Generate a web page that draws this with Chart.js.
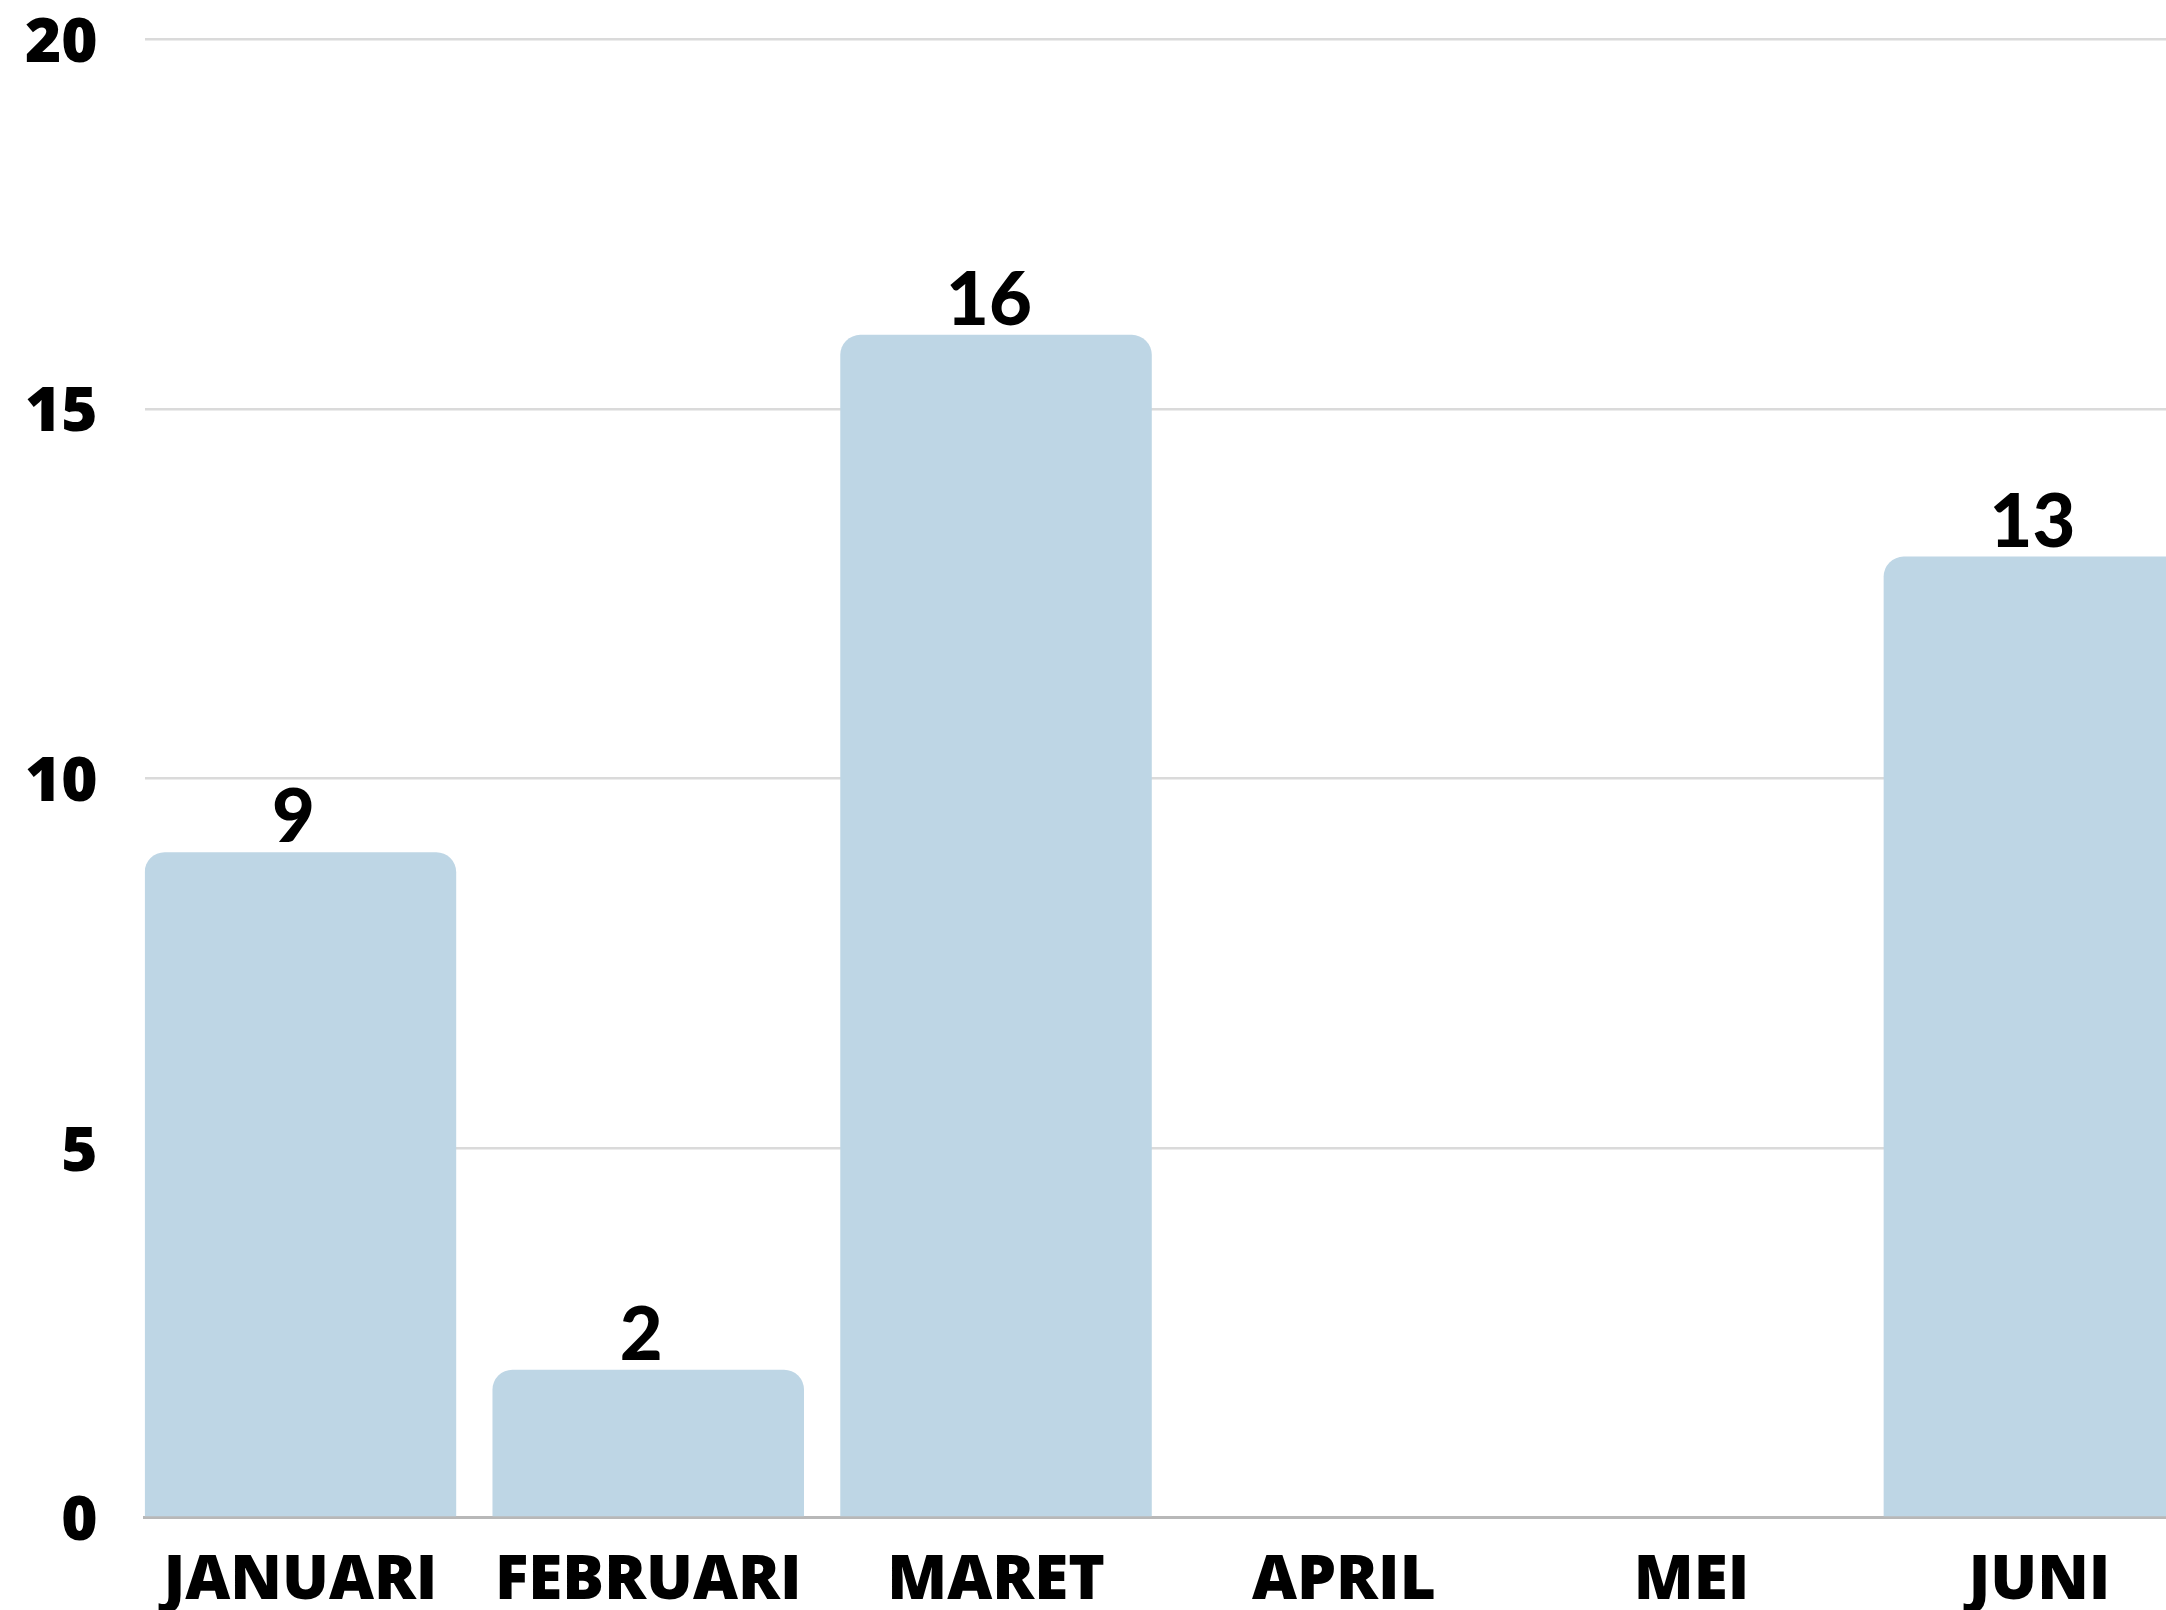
<!DOCTYPE html>
<html>
<head>
<meta charset="utf-8">
<script src="https://cdn.jsdelivr.net/npm/chart.js@4.4.1/dist/chart.umd.min.js"></script>
<style>
  html, body { margin: 0; padding: 0; background: #fff; overflow: hidden; }
</style>
</head>
<body>
<canvas id="barCanvas" width="2166" height="1610"></canvas>
<script>
const months = ["JANUARI", "FEBRUARI", "MARET", "APRIL", "MEI", "JUNI"];
const counts = [9, 2, 16, 0, 0, 13];
const yTicks = [0, 5, 10, 15, 20];

const ctx = document.getElementById("barCanvas");

// numbers drawn above each bar
const valueLabels = {
    id: "valueLabels",
    afterDatasetsDraw(chart) {
        const c = chart.ctx;
        const meta = chart.getDatasetMeta(0);
        c.save();
        c.fillStyle = "#000";
        c.font = "900 74px Lato";
        c.textAlign = "center";
        c.textBaseline = "alphabetic";
        meta.data.forEach((bar, i) => {
            if (!counts[i]) return;
            c.fillText(String(counts[i]), bar.x - 7, bar.y - 10);
        });
        c.restore();
    }
};

new Chart(ctx, {
    type: "bar",
    data: {
        datasets: [{
            data: counts.map((v, i) => ({ x: i, y: v })),
            backgroundColor: "#bed6e5",
            borderRadius: { topLeft: 20, topRight: 20 },
            borderSkipped: "start",
            barPercentage: 0.8957,
            categoryPercentage: 1
        }]
    },
    options: {
        responsive: false,
        animation: false,
        layout: { padding: 0 },
        plugins: {
            legend: { display: false },
            tooltip: { enabled: false }
        },
        scales: {
            x: {
                type: "linear",
                offset: false,
                min: -0.4478,
                max: 5.364,
                grid: { display: false, drawTicks: false, offset: false },
                border: { display: true, color: "#b8b8b8", width: 3 },
                ticks: {
                    stepSize: 1,
                    includeBounds: false,
                    autoSkip: false,
                    maxRotation: 0,
                    padding: 27,
                    color: "#000",
                    font: { family: "Open Sans", size: 62, weight: 800 },
                    callback: (v) => months[v] !== undefined && Number.isInteger(v) ? months[v] : ""
                },
                afterFit: (scale) => { scale.height = 92.5; }
            },
            y: {
                min: 0,
                max: 20,
                afterBuildTicks: (scale) => { scale.ticks = yTicks.map(v => ({ value: v })); },
                grid: { color: "#dadada", lineWidth: 2.5, drawTicks: true, tickLength: 45, tickColor: "rgba(0,0,0,0)" },
                border: { display: false },
                ticks: {
                    padding: 2,
                    labelOffset: 5,
                    color: "#000",
                    font: { family: "Open Sans", size: 62, weight: 800 }
                },
                afterFit: (scale) => { scale.width = 144.7; }
            }
        }
    },
    plugins: [valueLabels]
});
</script>
</body>
</html>
